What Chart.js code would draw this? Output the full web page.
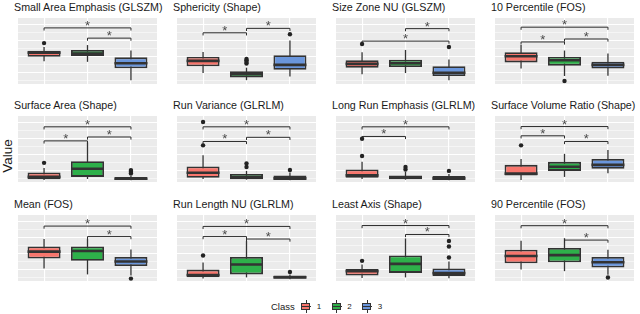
<!DOCTYPE html>
<html lang="en">
<head>
<meta charset="UTF-8" />
<meta name="viewport" content="width=device-width, initial-scale=1.0" />
<title>Features por Classe</title>
<style>
  body { margin: 0; background: #fff; font-family: "Liberation Sans", Arial, sans-serif; }
  #wrap { position: relative; width: 640px; height: 314px; overflow: hidden; }
  .painel { position: absolute; }
  .titulo { position: absolute; font-size: 10.7px; color: #1a1a1a; white-space: nowrap; line-height: 12px; }
  #eixoY { position: absolute; left: -12px; top: 148px; width: 40px; text-align: center;
           font-size: 13.5px; color: #1a1a1a; transform: rotate(-90deg); line-height: 16px; }
  #legenda { position: absolute; left: 271px; top: 300px; height: 13px; display: flex; align-items: center;
             font-size: 8px; color: #1a1a1a; }
  #legenda .nome { font-size: 9.5px; margin-right: 5px; }
  .chave { position: relative; width: 13px; height: 13px; margin-right: 4px; }
  .chave .bigode { position: absolute; left: 6px; top: 0; width: 1px; height: 13px; background: #333; }
  .chave .caixa { position: absolute; left: 1.5px; top: 2.5px; width: 7px; height: 5px; border: 1.5px solid #333; }
  .chave .mediana { position: absolute; left: 1.5px; top: 5.5px; width: 10px; height: 1.8px; background: #333; }
  .rotulo { margin-right: 9px; }
</style>
</head>
<body>
<div id="wrap">
  <div id="eixoY">Value</div>
  <div id="legenda"></div>
</div>

<script src="https://cdn.jsdelivr.net/npm/chart.js@4.4.0/dist/chart.umd.min.js"></script>
<script>
  // classes e cores
  const classes = ['1', '2', '3'];
  const classColors = ['#F8766D', '#2EB04A', '#6A96DC'];

  const panelTitles = [
    'Small Area Emphasis (GLSZM)', 'Sphericity (Shape)', 'Size Zone NU (GLSZM)', '10 Percentile (FOS)',
    'Surface Area (Shape)', 'Run Variance (GLRLM)', 'Long Run Emphasis (GLRLM)', 'Surface Volume Ratio (Shape)',
    'Mean (FOS)', 'Run Length NU (GLRLM)', 'Least Axis (Shape)', '90 Percentile (FOS)'
  ];

  // estatisticas dos boxplots (escala relativa 0-100 por painel)
  const whiskerLo = [
    [34.5, 33.6, 5.8], [16.6, 5.8, 11.2], [14.8, 16.6, 5.8], [23.3, 12.1, 12.6],
    [3.2, 4.5, 2.5], [4.5, 3.5, 2.5], [4.5, 3.5, 2.5], [3.2, 7.7, 13.2],
    [19, 10, 8.2], [3.6, 5.5, 2.5], [4.5, 5.5, 4], [17.6, 14.9, 9.5]
  ];
  const boxQ1 = [
    [41.3, 42.6, 23.8], [26.9, 9.9, 21.5], [24.7, 25.6, 12.1], [32.7, 27.8, 23.3],
    [4.1, 7.7, 3.2], [6.4, 4.1, 3.2], [6.4, 4.1, 3.2], [10, 16.8, 20],
    [34, 30.5, 22.7], [5.5, 10, 3.6], [8.2, 12.3, 7.7], [27, 28.4, 20.3]
  ];
  const boxMedian = [
    [47.5, 46, 31.4], [35, 14.8, 29], [30.5, 31.4, 17], [42, 35.9, 29],
    [7.7, 20, 5], [14, 7, 5.5], [10, 6.8, 5.5], [12.7, 23, 26],
    [44.5, 45.5, 29.5], [9, 25, 5.5], [15, 26, 12], [37.8, 39.2, 28.4]
  ];
  const boxQ3 = [
    [50.2, 51.6, 40.4], [41.3, 19.3, 43.5], [35.9, 36.8, 26.9], [48, 41.3, 33.6],
    [14.5, 31.4, 7.7], [23.6, 12.3, 10], [19, 10, 9], [26, 30.5, 35],
    [52.3, 52.3, 36.4], [17.3, 36.4, 8.2], [18.2, 38.6, 19], [47.3, 50, 36.5]
  ];
  const whiskerHi = [
    [56, 59, 50.7], [48.4, 24.7, 65.9], [48, 51.6, 37.2], [59.2, 50.7, 46.2],
    [21.4, 60, 10], [40.5, 16.8, 14.5], [30.5, 15.5, 12.3], [35, 42.7, 48.6],
    [63.6, 63.6, 47.7], [28, 60.5, 10], [25, 64.5, 29.5], [60.8, 64.9, 47.3]
  ];
  const outliers = [
    [[62], [], []], [[], [31, 33.5, 36, 38], [75.3]], [[60.5], [], [56]], [[], [4.5], []],
    [[29], [], [13, 15, 16.5, 18]], [[55.5, 91], [22.7, 28], [18.2]], [[39.5, 65.5], [19, 22.7], [16.8]], [[55.5], [], []],
    [[], [], [3.6]], [[38.6], [], [13.6]], [[30.5], [], [35.5, 52.3, 60.5]], [[], [], [5.4]]
  ];
  // colchetes de significancia: [classe inicial, classe final, altura]
  const brackets = [
    [[1, 3, 85], [2, 3, 69.5]], [[1, 2, 77.6], [2, 3, 84.3]], [[1, 3, 65], [2, 3, 83.9]], [[1, 3, 86.1], [1, 2, 63.7], [2, 3, 68.2]],
    [[1, 3, 83.6], [2, 3, 68.2], [1, 2, 62.3]], [[1, 3, 83.6], [1, 2, 61.4], [2, 3, 67.7]], [[1, 3, 83.6], [1, 2, 69]], [[1, 3, 84], [1, 2, 70], [2, 3, 61.4]],
    [[1, 3, 83.2], [2, 3, 67.3]], [[1, 3, 82.7], [1, 2, 67.3], [2, 3, 63.6]], [[1, 3, 84], [2, 3, 70.5]], [[1, 3, 83.8], [2, 3, 62]]
  ];
  const gridBreaks = [6, 18, 30, 42, 54, 66, 78, 90];
  const sigLabel = '*';

  // layout dos paineis
  const colLeft = [14, 173, 332, 491];
  const rowTop = [14, 112, 211];
  const panelW = 147, panelH = 74;

  const boxplotExtras = {
    id: 'boxplotExtras',
    beforeDraw(chart) {
      const a = chart.chartArea, ctx = chart.ctx;
      ctx.save();
      ctx.fillStyle = '#EBEBEB';
      ctx.fillRect(a.left, a.top, a.right - a.left, a.bottom - a.top);
      ctx.restore();
    },
    beforeDatasetsDraw(chart, args, opts) {
      const p = opts.p, ctx = chart.ctx;
      const x = chart.scales.x, y = chart.scales.y;
      ctx.save();
      ctx.strokeStyle = '#333';
      ctx.lineWidth = 1.3;
      for (let i = 0; i < classes.length; i++) {
        const px = x.getPixelForValue(i + 1);
        ctx.beginPath();
        ctx.moveTo(px, y.getPixelForValue(whiskerLo[p][i]));
        ctx.lineTo(px, y.getPixelForValue(whiskerHi[p][i]));
        ctx.stroke();
      }
      ctx.restore();
    },
    afterDatasetsDraw(chart, args, opts) {
      const p = opts.p, ctx = chart.ctx;
      const x = chart.scales.x, y = chart.scales.y;
      const barras = chart.getDatasetMeta(0).data;
      ctx.save();
      ctx.strokeStyle = '#333';
      ctx.lineWidth = 2.6;
      for (let i = 0; i < classes.length; i++) {
        const b = barras[i];
        const py = y.getPixelForValue(boxMedian[p][i]);
        ctx.beginPath();
        ctx.moveTo(b.x - b.width / 2, py);
        ctx.lineTo(b.x + b.width / 2, py);
        ctx.stroke();
      }
      // colchetes
      ctx.lineWidth = 1;
      ctx.strokeStyle = '#2b2b2b';
      ctx.fillStyle = '#4a4a4a';
      ctx.font = '13px "Liberation Sans", Arial, sans-serif';
      ctx.textAlign = 'center';
      ctx.textBaseline = 'alphabetic';
      brackets[p].forEach(([c1, c2, h]) => {
        const x1 = x.getPixelForValue(c1), x2 = x.getPixelForValue(c2);
        const py = y.getPixelForValue(h), tip = y.getPixelForValue(h - 4);
        ctx.beginPath();
        ctx.moveTo(x1, tip);
        ctx.lineTo(x1, py);
        ctx.lineTo(x2, py);
        ctx.lineTo(x2, tip);
        ctx.stroke();
        ctx.fillText(sigLabel, (x1 + x2) / 2, py + 2);
      });
      ctx.restore();
    }
  };

  function criarPainel(p) {
    const c = p % 4, r = Math.floor(p / 4);
    const wrap = document.getElementById('wrap');

    const t = document.createElement('div');
    t.className = 'titulo';
    t.style.left = colLeft[c] + 'px';
    t.style.top = (rowTop[r] - 13) + 'px';
    t.textContent = panelTitles[p];
    wrap.appendChild(t);

    const div = document.createElement('div');
    div.className = 'painel';
    div.style.left = colLeft[c] + 'px';
    div.style.top = rowTop[r] + 'px';
    const cv = document.createElement('canvas');
    cv.width = panelW;
    cv.height = panelH;
    div.appendChild(cv);
    wrap.appendChild(div);

    const caixas = classes.map((cl, i) => ({ x: i + 1, y: [boxQ1[p][i], boxQ3[p][i]] }));
    const pontos = [];
    classes.forEach((cl, i) => outliers[p][i].forEach(v => pontos.push({ x: i + 1, y: v })));

    new Chart(cv, {
      type: 'bar',
      data: {
        datasets: [{
          type: 'bar',
          data: caixas,
          backgroundColor: classColors,
          borderColor: '#333',
          borderWidth: 1.8,
          borderSkipped: false,
          barPercentage: 0.76,
          categoryPercentage: 1,
          order: 1
        }, {
          type: 'scatter',
          data: pontos,
          pointRadius: 2.2,
          pointBackgroundColor: '#222',
          pointBorderWidth: 0,
          order: 0
        }]
      },
      options: {
        responsive: false,
        animation: false,
        events: [],
        layout: { padding: 0 },
        plugins: {
          legend: { display: false },
          tooltip: { enabled: false },
          boxplotExtras: { p: p }
        },
        scales: {
          x: {
            type: 'linear', min: 0.4, max: 3.6, offset: false,
            ticks: { display: false },
            grid: { color: '#fff', lineWidth: 1.1, drawTicks: false, offset: false },
            border: { display: false },
            afterBuildTicks: s => { s.ticks = classes.map((cl, i) => ({ value: i + 1 })); }
          },
          y: {
            min: 0, max: 100,
            ticks: { display: false },
            grid: { color: '#fff', lineWidth: ctx => (ctx.index % 2 ? 1.1 : 0.5), drawTicks: false },
            border: { display: false },
            afterBuildTicks: s => { s.ticks = gridBreaks.map(v => ({ value: v })); }
          }
        }
      },
      plugins: [boxplotExtras]
    });
  }

  function montarLegenda() {
    const leg = document.getElementById('legenda');
    const nome = document.createElement('span');
    nome.className = 'nome';
    nome.textContent = 'Class';
    leg.appendChild(nome);
    classes.forEach((cl, i) => {
      const k = document.createElement('div');
      k.className = 'chave';
      k.innerHTML = '<div class="bigode"></div><div class="caixa"></div><div class="mediana"></div>';
      k.querySelector('.caixa').style.background = classColors[i];
      leg.appendChild(k);
      const s = document.createElement('span');
      s.className = 'rotulo';
      s.textContent = cl;
      leg.appendChild(s);
    });
  }

  for (let p = 0; p < panelTitles.length; p++) criarPainel(p);
  montarLegenda();
</script>
</body>
</html>
